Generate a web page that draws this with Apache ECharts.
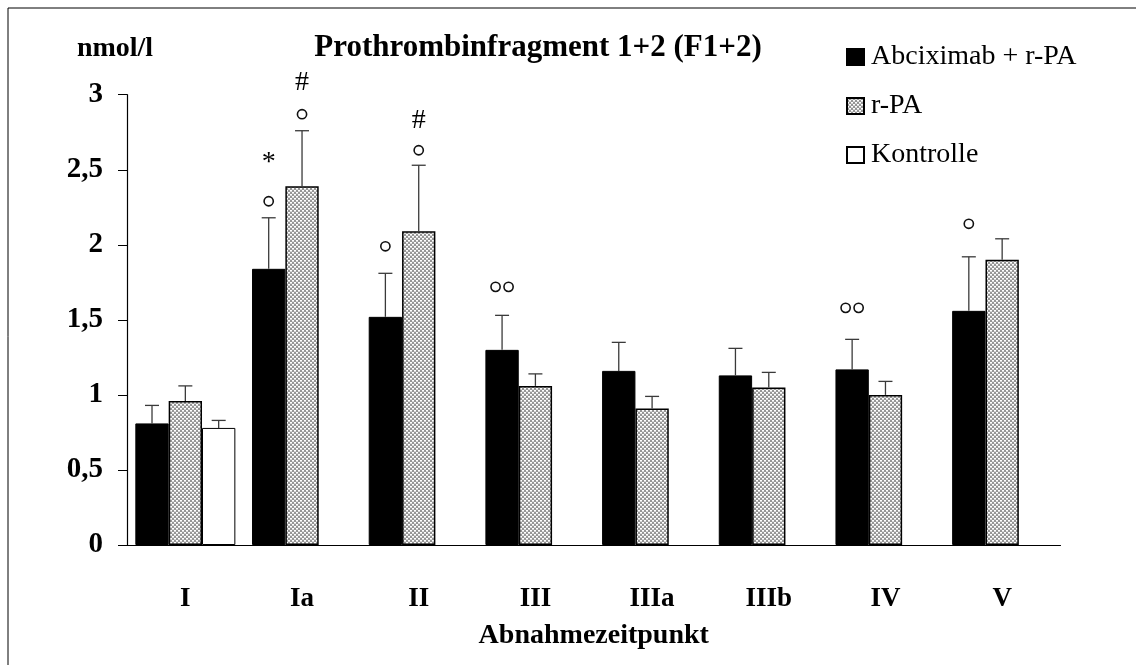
<!DOCTYPE html>
<html>
<head>
<meta charset="utf-8">
<script src="https://cdn.jsdelivr.net/npm/echarts@6/dist/echarts.min.js"></script>
<style>html,body{margin:0;padding:0;background:#fff}#c{width:1136px;height:665px}</style>
</head>
<body>
<div id="c"></div>
<script>
// ---- data ----
const categories = ['I', 'Ia', 'II', 'III', 'IIIa', 'IIIb', 'IV', 'V'];
const seriesNames = ['Abciximab + r-PA', 'r-PA', 'Kontrolle'];
const abcixValues = [0.81, 1.84, 1.52, 1.30, 1.16, 1.13, 1.17, 1.56];
const abcixSD     = [0.12, 0.34, 0.29, 0.23, 0.19, 0.18, 0.20, 0.36];
const rpaValues   = [0.96, 2.39, 2.09, 1.06, 0.91, 1.05, 1.00, 1.90];
const rpaSD       = [0.10, 0.37, 0.44, 0.08, 0.08, 0.10, 0.09, 0.14];
const kontrValues = [0.78, null, null, null, null, null, null, null];
const kontrSD     = [0.05, null, null, null, null, null, null, null];
const yTicks = [0, 0.5, 1, 1.5, 2, 2.5, 3];
// significance marks: category index, series index, height (value units), text
const annCat    = [1, 1, 1, 1, 2, 2, 2, 3, 6, 7];
const annSeries = [0, 0, 1, 1, 0, 1, 1, 0, 0, 0];
const annY      = [2.29, 2.55, 2.87, 3.08, 1.99, 2.63, 2.83, 1.72, 1.58, 2.14];
const annText   = ['°', '*', '°', '#', '°', '°', '#', '°°', '°°', '°'];

// ---- pattern for r-PA ----
function makePattern() {
  const c = document.createElement('canvas');
  c.width = 4; c.height = 4;
  const g = c.getContext('2d');
  g.fillStyle = '#969696'; g.fillRect(0, 0, 4, 4);
  g.fillStyle = '#ffffff';
  g.fillRect(0, 0, 2, 1);
  g.fillRect(2, 2, 2, 1);
  g.fillStyle = '#d8d8d8';
  g.fillRect(0, 1, 2, 1);
  g.fillRect(2, 3, 2, 1);
  return c;
}
const pattern = { image: makePattern(), repeat: 'repeat' };

const CAT_GAP = 0.143;
const serif = 'Liberation Serif, Times New Roman, serif';

function barX(api, cat, sIdx) {
  const catW = api.size([1, 0])[0];
  const groupW = catW * (1 - CAT_GAP);
  const bw = groupW / 3;
  const cx = api.coord([cat, 0])[0];
  return cx - groupW / 2 + bw * (sIdx + 0.5);
}

function errData(vals, sds) {
  const out = [];
  vals.forEach((v, i) => { if (v != null && sds[i] != null) out.push([i, v + sds[i], v]); });
  return out;
}

function errSeries(vals, sds, sIdx) {
  return {
    type: 'custom', name: 'err' + sIdx, z: 5, silent: true,
    encode: { x: 0, y: 1 },
    data: errData(vals, sds),
    renderItem: function (params, api) {
      const cat = api.value(0);
      const x = barX(api, cat, sIdx);
      const yTop = api.coord([cat, api.value(1)])[1];
      const yVal = api.coord([cat, api.value(2)])[1];
      const st = { stroke: '#3a3a3a', lineWidth: 1.3 };
      return { type: 'group', children: [
        { type: 'line', shape: { x1: x, y1: yVal, x2: x, y2: yTop }, style: st },
        { type: 'line', shape: { x1: x - 7, y1: yTop, x2: x + 7, y2: yTop }, style: st }
      ]};
    }
  };
}

const annData = annCat.map((c, i) => [c, annY[i], annSeries[i], i]);

const option = {
  animation: false,
  backgroundColor: '#fff',
  grid: { left: 127, right: 75.5, top: 94.7, bottom: 120 },
  legend: {
    data: seriesNames,
    orient: 'vertical', left: 841, top: 37,
    itemWidth: 17, itemHeight: 16, itemGap: 19, icon: 'rect',
    textStyle: { fontFamily: serif, fontSize: 28, color: '#000', lineHeight: 30, padding: [0, 0, 0, 2] }
  },
  xAxis: {
    type: 'category', data: categories,
    axisLine: { lineStyle: { color: '#000', width: 1.2 } },
    axisTick: { length: 9, lineStyle: { color: '#000' } },
    axisLabel: { fontFamily: serif, fontWeight: 'bold', fontSize: 27, color: '#000', margin: 41 },
    name: 'Abnahmezeitpunkt', nameLocation: 'middle', nameGap: 77,
    nameTextStyle: { fontFamily: serif, fontWeight: 'bold', fontSize: 28, color: '#000' }
  },
  yAxis: {
    type: 'value', min: yTicks[0], max: yTicks[yTicks.length - 1], interval: yTicks[1] - yTicks[0],
    splitLine: { show: false },
    axisLine: { show: true, lineStyle: { color: '#000', width: 1.2 } },
    axisTick: { show: true, length: 9, lineStyle: { color: '#000' } },
    axisLabel: { fontFamily: serif, fontWeight: 'bold', fontSize: 29, color: '#000', margin: 24,
      formatter: v => String(v).replace('.', ',') }
  },
  graphic: [
    { type: 'text', x: 538, y: 48, style: { text: 'Prothrombinfragment 1+2 (F1+2)', font: 'bold 31px ' + serif, fill: '#000', textAlign: 'center', textVerticalAlign: 'middle' } },
    { type: 'text', x: 115, y: 49, style: { text: 'nmol/l', font: 'bold 28px ' + serif, fill: '#000', textAlign: 'center', textVerticalAlign: 'middle' } },
    { type: 'line', shape: { x1: 8, y1: 8, x2: 8, y2: 665 }, style: { stroke: '#000', lineWidth: 1 } },
    { type: 'line', shape: { x1: 8, y1: 8, x2: 1136, y2: 8 }, style: { stroke: '#000', lineWidth: 1 } }
  ],
  series: [
    { type: 'bar', name: seriesNames[0], data: abcixValues, barGap: '0%', barCategoryGap: (CAT_GAP * 100) + '%',
      itemStyle: { color: '#000', borderColor: '#000', borderWidth: 1 } },
    { type: 'bar', name: seriesNames[1], data: rpaValues, barGap: '0%', barCategoryGap: (CAT_GAP * 100) + '%',
      itemStyle: { color: pattern, borderColor: '#000', borderWidth: 1.5 } },
    { type: 'bar', name: seriesNames[2], data: kontrValues, barGap: '0%', barCategoryGap: (CAT_GAP * 100) + '%',
      itemStyle: { color: '#fff', borderColor: '#000', borderWidth: 1 } },
    errSeries(abcixValues, abcixSD, 0),
    errSeries(rpaValues, rpaSD, 1),
    errSeries(kontrValues, kontrSD, 2),
    {
      type: 'custom', name: 'marks', z: 6, silent: true, clip: false,
      encode: { x: 0, y: 1 },
      data: annData,
      renderItem: function (params, api) {
        const cat = api.value(0);
        const sIdx = api.value(2);
        const idx = api.value(3);
        const t = annText[idx];
        const x = barX(api, cat, sIdx);
        const y = api.coord([cat, api.value(1)])[1];
        if (t.charAt(0) === '°') {
          // ring marks: one ring per ° character
          const n = t.length, gap = 13;
          const children = [];
          for (let k = 0; k < n; k++) {
            const cx = x + (k - (n - 1) / 2) * gap;
            children.push({ type: 'circle', shape: { cx: cx, cy: y, r: 4.6 },
              style: { fill: 'none', stroke: '#111', lineWidth: 1.6 } });
          }
          return { type: 'group', children: children };
        }
        return { type: 'text', x: x, y: y, style: {
          text: t, font: '28px ' + serif,
          fill: '#000', textAlign: 'center', textVerticalAlign: 'middle'
        }};
      }
    }
  ]
};

const chart = echarts.init(document.getElementById('c'));
chart.setOption(option);
</script>
</body>
</html>
